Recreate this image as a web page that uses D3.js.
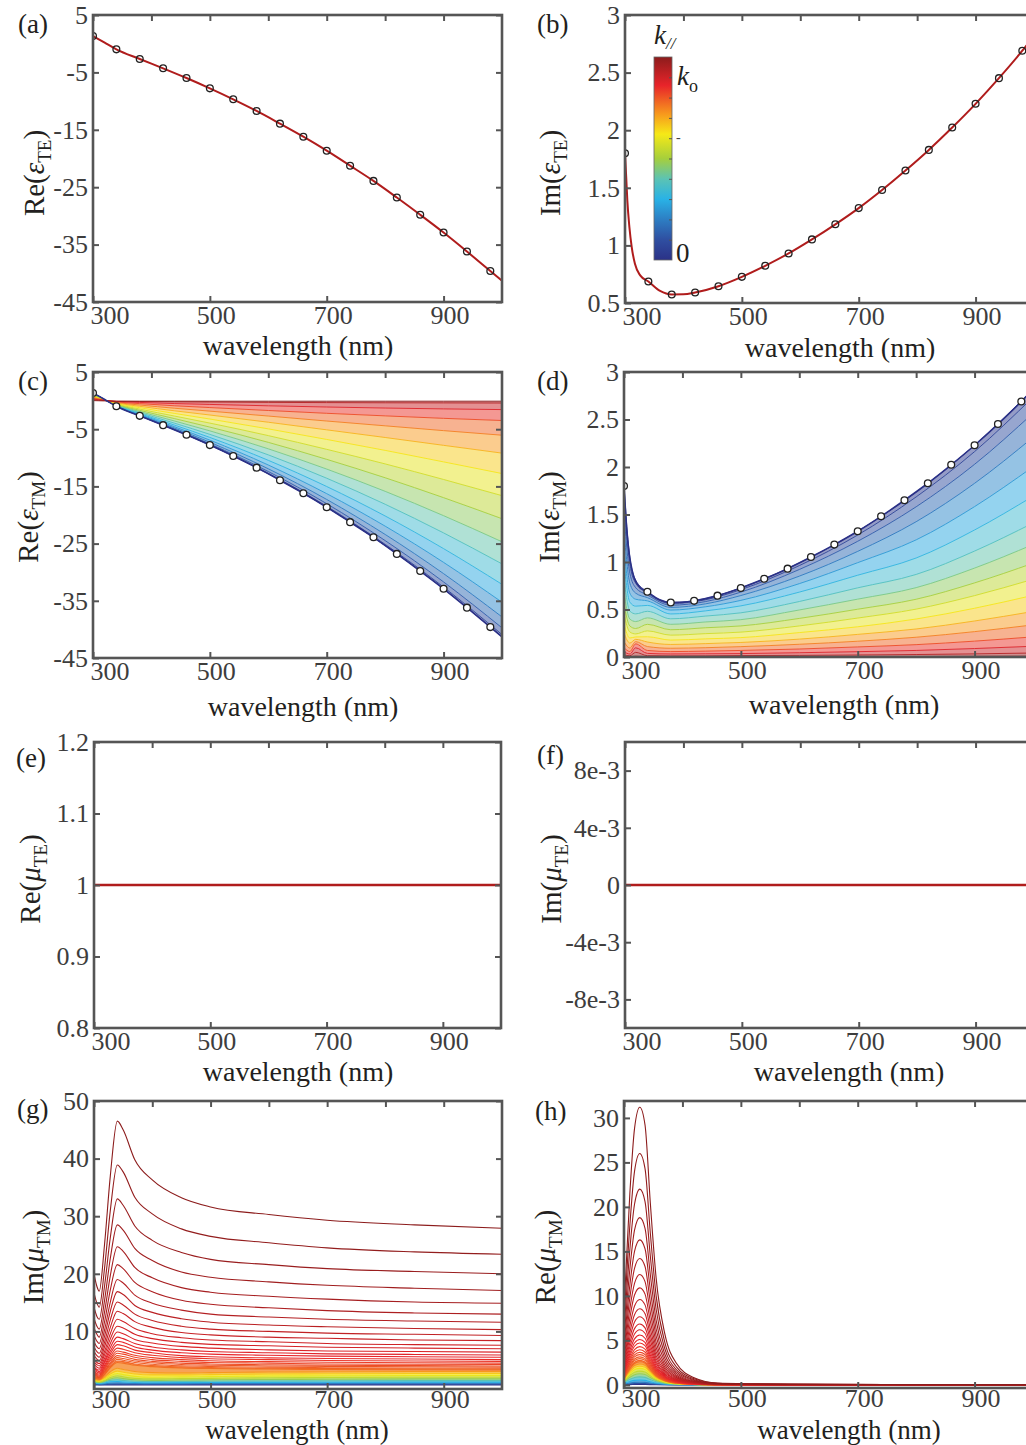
<!DOCTYPE html>
<html>
<head>
<meta charset="utf-8">
<script src="https://cdn.jsdelivr.net/npm/d3@7"></script>
<style>
body { margin: 0; background: #fff; }
svg { display: block; }
</style>
</head>
<body>
<svg id="fig" width="1026" height="1445"></svg>
<script>
// ---- data ----
const wlTicks = [300, 500, 700, 900];
const wlTopTicks = [300, 400, 500, 600, 700, 800, 900];

const circleWl = [300, 340, 380, 420, 460, 500, 540, 580, 620, 660, 700, 740, 780, 820, 860, 900, 940, 980];
const reEpsCircles = [1.34, -0.98, -2.67, -4.29, -5.98, -7.78, -9.69, -11.72, -13.93, -16.2, -18.64, -21.25, -23.9, -26.8, -29.8, -32.9, -36.2, -39.6];
const imEpsCircles = [1.80, 0.687, 0.574, 0.591, 0.646, 0.727, 0.823, 0.93, 1.052, 1.183, 1.324, 1.481, 1.65, 1.829, 2.023, 2.229, 2.452, 2.69];

const reEpsWl = [300, 320, 340, 380, 420, 460, 500, 540, 580, 620, 660, 700, 740, 780, 820, 860, 900, 940, 980, 1000];
const reEpsTE = [1.34, 0.18, -0.98, -2.67, -4.29, -5.98, -7.78, -9.69, -11.72, -13.93, -16.2, -18.64, -21.25, -23.9, -26.8, -29.8, -32.9, -36.2, -39.6, -41.3];
const imEpsWl = [300, 302, 304, 307.5, 311.5, 317, 326, 340, 360, 380, 400, 420, 460, 500, 540, 580, 620, 660, 700, 740, 780, 820, 860, 900, 940, 980, 1000];
const imEpsTE = [1.80, 1.60, 1.39, 1.16, 0.985, 0.84, 0.74, 0.687, 0.605, 0.574, 0.575, 0.591, 0.646, 0.727, 0.823, 0.93, 1.052, 1.183, 1.324, 1.481, 1.65, 1.829, 2.023, 2.229, 2.452, 2.69, 2.82];

const muTEWl = [300, 1000];
const reMuTE = [1, 1];
const imMuTE = [0, 0];

// TM family, k// levels from 0 (blue) to k_o (red)
const epsTMWl = [300, 310, 320, 340, 380, 440, 500, 600, 700, 800, 900, 1000];
const epsTMLevels = [0, 0.0625, 0.125, 0.1875, 0.25, 0.3125, 0.375, 0.4375, 0.5, 0.5625, 0.625, 0.6875, 0.75, 0.8125, 0.875, 0.9375, 1];
const reEpsTM = [
  [1.34, 0.76, 0.18, -0.98, -2.67, -5.13, -7.78, -12.8, -18.64, -25.35, -32.9, -41.3],
  [1.33, 0.756, 0.179, -0.974, -2.65, -5.10, -7.72, -12.70, -18.49, -25.13, -32.60, -40.90],
  [1.31, 0.745, 0.177, -0.957, -2.60, -4.99, -7.56, -12.40, -18.02, -24.47, -31.70, -39.73],
  [1.28, 0.727, 0.172, -0.93, -2.52, -4.82, -7.28, -11.92, -17.28, -23.40, -30.25, -37.82],
  [1.24, 0.702, 0.166, -0.891, -2.41, -4.59, -6.91, -11.26, -16.27, -21.95, -28.28, -35.25],
  [1.18, 0.670, 0.159, -0.843, -2.27, -4.30, -6.44, -10.44, -15.02, -20.17, -25.88, -32.12],
  [1.11, 0.632, 0.150, -0.785, -2.10, -3.96, -5.90, -9.49, -13.57, -18.12, -23.13, -28.55],
  [1.04, 0.587, 0.139, -0.72, -1.91, -3.58, -5.29, -8.43, -11.97, -15.86, -20.12, -24.68],
  [0.95, 0.537, 0.127, -0.647, -1.70, -3.16, -4.63, -7.30, -10.27, -13.49, -16.97, -20.65],
  [0.85, 0.482, 0.114, -0.568, -1.48, -2.71, -3.93, -6.12, -8.52, -11.07, -13.79, -16.62],
  [0.74, 0.422, 0.10, -0.484, -1.24, -2.25, -3.22, -4.94, -6.79, -8.70, -10.71, -12.75],
  [0.63, 0.358, 0.085, -0.397, -1.00, -1.79, -2.52, -3.78, -5.11, -6.45, -7.82, -9.18],
  [0.51, 0.291, 0.069, -0.309, -0.77, -1.34, -1.84, -2.70, -3.57, -4.41, -5.25, -6.05],
  [0.39, 0.221, 0.052, -0.222, -0.53, -0.91, -1.22, -1.73, -2.22, -2.67, -3.10, -3.48],
  [0.26, 0.148, 0.035, -0.15, -0.32, -0.52, -0.67, -0.91, -1.12, -1.30, -1.45, -1.57],
  [0.13, 0.074, 0.018, -0.12, -0.16, -0.21, -0.25, -0.31, -0.35, -0.38, -0.40, -0.42],
  [0, -0.03, -0.06, -0.1, -0.1, -0.1, -0.1, -0.1, -0.1, -0.1, -0.1, -0.1]
];
const imEpsTM = [
  [1.80, 1.05, 0.81, 0.687, 0.574, 0.615, 0.727, 0.99, 1.324, 1.737, 2.229, 2.82],
  [1.674, 0.977, 0.778, 0.673, 0.563, 0.603, 0.709, 0.962, 1.284, 1.685, 2.162, 2.735],
  [1.512, 0.882, 0.729, 0.653, 0.545, 0.584, 0.683, 0.921, 1.218, 1.581, 2.028, 2.566],
  [1.332, 0.777, 0.672, 0.625, 0.522, 0.560, 0.647, 0.851, 1.112, 1.424, 1.828, 2.312],
  [1.152, 0.672, 0.608, 0.591, 0.494, 0.529, 0.596, 0.772, 0.993, 1.233, 1.583, 2.002],
  [0.99, 0.578, 0.535, 0.543, 0.453, 0.486, 0.538, 0.683, 0.861, 1.042, 1.337, 1.692],
  [0.828, 0.483, 0.454, 0.481, 0.402, 0.431, 0.465, 0.584, 0.728, 0.869, 1.115, 1.41],
  [0.684, 0.399, 0.373, 0.412, 0.344, 0.369, 0.393, 0.495, 0.609, 0.730, 0.936, 1.184],
  [0.558, 0.326, 0.30, 0.344, 0.287, 0.308, 0.327, 0.406, 0.503, 0.608, 0.780, 0.987],
  [0.45, 0.263, 0.243, 0.275, 0.230, 0.246, 0.262, 0.327, 0.410, 0.504, 0.646, 0.818],
  [0.342, 0.2, 0.211, 0.213, 0.178, 0.191, 0.204, 0.257, 0.318, 0.40, 0.513, 0.649],
  [0.252, 0.147, 0.186, 0.158, 0.132, 0.141, 0.153, 0.188, 0.238, 0.295, 0.379, 0.479],
  [0.162, 0.095, 0.162, 0.110, 0.092, 0.098, 0.109, 0.134, 0.166, 0.208, 0.267, 0.338],
  [0.099, 0.058, 0.138, 0.069, 0.057, 0.062, 0.069, 0.084, 0.106, 0.130, 0.167, 0.212],
  [0.054, 0.032, 0.097, 0.038, 0.032, 0.034, 0.036, 0.045, 0.056, 0.069, 0.089, 0.113],
  [0.022, 0.013, 0.049, 0.014, 0.011, 0.012, 0.015, 0.017, 0.021, 0.026, 0.033, 0.042],
  [0.005, 0.003, 0.008, 0.003, 0.002, 0.002, 0.003, 0.003, 0.004, 0.005, 0.007, 0.008]
];

const muTMLevels = [1, 0.99, 0.98, 0.97, 0.96, 0.95, 0.94, 0.93, 0.92, 0.91, 0.90, 0.89, 0.88, 0.87, 0.86, 0.85, 0.84, 0.83, 0.82, 0.81, 0.80, 0.79, 0.78, 0.77, 0.72, 0.66, 0.60, 0.54, 0.48, 0.40, 0.30, 0.20, 0.10, 0];
const imMuWl = [300, 305, 309, 318, 328, 340, 350, 370, 400, 450, 500, 600, 700, 850, 1000];
const imMuTM = [
  [20.0, 17.8, 17.0, 25.0, 37.0, 46.5, 45.0, 39.8, 36.3, 33.2, 31.6, 30.3, 29.3, 28.5, 27.9],
  [16.7, 14.9, 14.2, 20.9, 31.0, 38.9, 37.7, 33.3, 30.4, 27.8, 26.5, 25.4, 24.5, 23.8, 23.4],
  [14.2, 12.6, 12.1, 17.8, 26.3, 33.0, 31.9, 28.3, 25.8, 23.7, 22.5, 21.6, 20.9, 20.4, 20.0],
  [12.3, 10.9, 10.4, 15.3, 22.7, 28.5, 27.6, 24.4, 22.3, 20.3, 19.4, 18.6, 18.0, 17.5, 17.1],
  [10.6, 9.5, 9.0, 13.3, 19.7, 24.7, 23.9, 21.1, 19.3, 17.6, 16.8, 16.1, 15.6, 15.1, 14.9],
  [9.3, 8.3, 7.9, 11.6, 17.2, 21.6, 20.9, 18.5, 16.9, 15.4, 14.7, 14.1, 13.6, 13.2, 13.0],
  [8.2, 7.3, 7.0, 10.2, 15.1, 19.0, 18.4, 16.3, 14.9, 13.7, 13.0, 12.5, 12.1, 11.8, 11.6],
  [7.3, 6.5, 6.2, 9.1, 13.5, 16.9, 16.4, 14.5, 13.3, 12.2, 11.6, 11.1, 10.8, 10.5, 10.3],
  [6.5, 5.8, 5.5, 8.1, 12.0, 15.1, 14.6, 13.0, 11.9, 10.9, 10.4, 10.0, 9.7, 9.5, 9.3],
  [5.8, 5.2, 4.9, 7.3, 10.7, 13.5, 13.1, 11.7, 10.7, 9.8, 9.4, 9.0, 8.8, 8.5, 8.4],
  [5.2, 4.6, 4.4, 6.5, 9.6, 12.1, 11.7, 10.5, 9.6, 8.9, 8.5, 8.2, 7.9, 7.7, 7.6],
  [4.7, 4.2, 4.0, 5.9, 8.7, 10.9, 10.6, 9.5, 8.75, 8.1, 7.75, 7.5, 7.25, 7.1, 7.0],
  [4.3, 3.8, 3.6, 5.3, 7.9, 9.9, 9.6, 8.6, 8.0, 7.4, 7.1, 6.8, 6.6, 6.5, 6.4],
  [3.9, 3.4, 3.3, 4.8, 7.2, 9.0, 8.75, 7.9, 7.3, 6.8, 6.5, 6.3, 6.1, 6.0, 5.9],
  [3.6, 3.2, 3.0, 4.5, 6.6, 8.3, 8.1, 7.3, 6.75, 6.3, 6.05, 5.85, 5.7, 5.6, 5.5],
  [3.3, 2.95, 2.8, 4.1, 6.1, 7.7, 7.5, 6.75, 6.3, 5.8, 5.6, 5.4, 5.3, 5.2, 5.1],
  [3.05, 2.7, 2.6, 3.8, 5.65, 7.1, 6.9, 6.3, 5.85, 5.45, 5.25, 5.1, 4.95, 4.85, 4.8],
  [2.85, 2.5, 2.4, 3.55, 5.25, 6.6, 6.4, 5.85, 5.45, 5.1, 4.9, 4.75, 4.65, 4.55, 4.5],
  [2.65, 2.35, 2.25, 3.35, 4.95, 6.2, 6.05, 5.5, 5.1, 4.8, 4.6, 4.5, 4.35, 4.3, 4.25],
  [2.5, 2.2, 2.1, 3.1, 4.6, 5.8, 5.65, 5.15, 4.8, 4.5, 4.35, 4.2, 4.12, 4.05, 4.0],
  [2.35, 2.1, 2.0, 2.95, 4.35, 5.45, 5.3, 4.85, 4.55, 4.25, 4.12, 4.0, 3.92, 3.85, 3.8],
  [2.2, 2.0, 1.9, 2.8, 4.1, 5.15, 5.0, 4.6, 4.3, 4.03, 3.9, 3.8, 3.7, 3.64, 3.6],
  [2.1, 1.85, 1.78, 2.6, 3.85, 4.85, 4.75, 4.35, 4.08, 3.85, 3.72, 3.62, 3.55, 3.49, 3.45],
  [1.98, 1.76, 1.68, 2.47, 3.66, 4.6, 4.5, 4.13, 3.89, 3.67, 3.56, 3.46, 3.39, 3.34, 3.3],
  [1.75, 1.6, 1.55, 2.1, 3.0, 3.6, 3.4, 3.05, 2.85, 2.8, 2.85, 2.95, 3.0, 3.05, 3.05],
  [1.6, 1.5, 1.45, 1.9, 2.6, 3.1, 2.9, 2.6, 2.45, 2.45, 2.5, 2.6, 2.65, 2.7, 2.7],
  [1.5, 1.4, 1.35, 1.7, 2.3, 2.7, 2.5, 2.2, 2.05, 2.1, 2.15, 2.25, 2.3, 2.35, 2.35],
  [1.4, 1.3, 1.25, 1.5, 2.0, 2.3, 2.1, 1.85, 1.75, 1.8, 1.85, 1.95, 2.0, 2.05, 2.05],
  [1.3, 1.2, 1.15, 1.35, 1.75, 1.95, 1.8, 1.6, 1.5, 1.55, 1.6, 1.65, 1.7, 1.75, 1.75],
  [1.2, 1.1, 1.05, 1.2, 1.5, 1.6, 1.5, 1.35, 1.3, 1.3, 1.35, 1.4, 1.42, 1.45, 1.45],
  [1.05, 1.0, 0.95, 1.05, 1.25, 1.3, 1.22, 1.12, 1.08, 1.1, 1.12, 1.15, 1.17, 1.2, 1.2],
  [0.9, 0.88, 0.85, 0.9, 1.0, 1.05, 1.0, 0.95, 0.93, 0.94, 0.95, 0.97, 0.98, 1.0, 1.0],
  [0.8, 0.78, 0.76, 0.78, 0.84, 0.86, 0.84, 0.82, 0.81, 0.82, 0.83, 0.84, 0.85, 0.85, 0.85],
  [0.7, 0.7, 0.7, 0.7, 0.7, 0.7, 0.7, 0.7, 0.7, 0.7, 0.7, 0.7, 0.7, 0.7, 0.7]
];
const reMuWl = [300, 310, 318, 327, 336, 345, 355, 370, 390, 420, 460, 520, 600, 750, 1000];
const reMuTM = [
  [8.5, 21.5, 28.8, 31.2, 29.2, 20.5, 12.0, 5.7, 2.4, 0.8, 0.2, 0.12, 0.08, 0.05, 0.03],
  [7.07, 17.9, 24.0, 26.0, 24.3, 17.1, 10.0, 4.76, 2.0, 0.68, 0.17, 0.1, 0.07, 0.04, 0.03],
  [5.98, 15.2, 20.3, 22.0, 20.6, 14.5, 8.47, 4.03, 1.69, 0.57, 0.14, 0.08, 0.06, 0.035, 0.02],
  [5.11, 13.0, 17.4, 18.8, 17.6, 12.4, 7.24, 3.44, 1.45, 0.49, 0.12, 0.07, 0.05, 0.03, 0.02],
  [4.43, 11.2, 15.0, 16.3, 15.3, 10.7, 6.28, 2.98, 1.26, 0.42, 0.10, 0.06, 0.04, 0.026, 0.016],
  [3.86, 9.78, 13.1, 14.2, 13.3, 9.33, 5.47, 2.60, 1.09, 0.37, 0.09, 0.054, 0.037, 0.023, 0.014],
  [3.37, 8.54, 11.4, 12.4, 11.6, 8.15, 4.77, 2.27, 0.95, 0.32, 0.08, 0.047, 0.032, 0.02, 0.012],
  [2.96, 7.51, 10.1, 10.9, 10.2, 7.16, 4.2, 1.99, 0.84, 0.28, 0.07, 0.041, 0.028, 0.017, 0.011],
  [2.61, 6.61, 8.86, 9.6, 8.99, 6.31, 3.7, 1.76, 0.74, 0.25, 0.06, 0.036, 0.025, 0.015, 0.01],
  [2.33, 5.89, 7.89, 8.55, 8.0, 5.62, 3.29, 1.56, 0.66, 0.22, 0.055, 0.032, 0.022, 0.014, 0.009],
  [2.08, 5.27, 7.06, 7.65, 7.16, 5.03, 2.95, 1.40, 0.59, 0.2, 0.049, 0.029, 0.02, 0.012, 0.008],
  [1.86, 4.72, 6.32, 6.85, 6.41, 4.5, 2.64, 1.25, 0.53, 0.18, 0.044, 0.026, 0.018, 0.011, 0.007],
  [1.69, 4.27, 5.72, 6.2, 5.8, 4.07, 2.39, 1.13, 0.48, 0.16, 0.04, 0.024, 0.016, 0.01, 0.006],
  [1.52, 3.86, 5.17, 5.6, 5.24, 3.68, 2.16, 1.02, 0.43, 0.15, 0.036, 0.021, 0.015, 0.009, 0.006],
  [1.39, 3.51, 4.71, 5.1, 4.77, 3.35, 1.96, 0.93, 0.39, 0.13, 0.033, 0.019, 0.013, 0.008, 0.005],
  [1.28, 3.24, 4.34, 4.7, 4.4, 3.09, 1.81, 0.86, 0.36, 0.12, 0.03, 0.018, 0.012, 0.008, 0.005],
  [1.17, 2.96, 3.97, 4.3, 4.02, 2.83, 1.66, 0.79, 0.33, 0.11, 0.028, 0.016, 0.011, 0.007, 0.004],
  [1.07, 2.72, 3.65, 3.95, 3.7, 2.6, 1.52, 0.72, 0.3, 0.1, 0.025, 0.015, 0.01, 0.006, 0.004],
  [0.99, 2.51, 3.37, 3.65, 3.42, 2.4, 1.41, 0.67, 0.28, 0.095, 0.023, 0.014, 0.009, 0.006, 0.004],
  [0.92, 2.34, 3.14, 3.4, 3.18, 2.23, 1.31, 0.62, 0.26, 0.088, 0.022, 0.013, 0.009, 0.005, 0.003],
  [0.86, 2.17, 2.91, 3.15, 2.95, 2.07, 1.21, 0.58, 0.24, 0.082, 0.02, 0.012, 0.008, 0.005, 0.003],
  [0.8, 2.03, 2.72, 2.95, 2.76, 1.94, 1.14, 0.54, 0.23, 0.077, 0.019, 0.011, 0.008, 0.005, 0.003],
  [0.75, 1.89, 2.54, 2.75, 2.57, 1.81, 1.06, 0.5, 0.21, 0.072, 0.018, 0.01, 0.007, 0.004, 0.003],
  [0.71, 1.79, 2.4, 2.6, 2.43, 1.71, 1.0, 0.48, 0.2, 0.068, 0.017, 0.01, 0.007, 0.004, 0.003],
  [0.64, 1.62, 2.17, 2.35, 2.2, 1.54, 0.9, 0.43, 0.18, 0.06, 0.015, 0.009, 0.006, 0.004, 0.002],
  [0.57, 1.45, 1.94, 2.1, 1.97, 1.38, 0.81, 0.38, 0.16, 0.055, 0.013, 0.008, 0.005, 0.003, 0.002],
  [0.5, 1.27, 1.71, 1.85, 1.73, 1.22, 0.71, 0.34, 0.14, 0.048, 0.012, 0.007, 0.005, 0.003, 0.002],
  [0.42, 1.07, 1.43, 1.55, 1.45, 1.02, 0.6, 0.28, 0.12, 0.04, 0.01, 0.006, 0.004, 0.002, 0.002],
  [0.34, 0.86, 1.15, 1.25, 1.17, 0.82, 0.48, 0.23, 0.1, 0.033, 0.008, 0.005, 0.003, 0.002, 0.001],
  [0.24, 0.62, 0.83, 0.9, 0.84, 0.59, 0.35, 0.16, 0.07, 0.023, 0.006, 0.003, 0.002, 0.001, 0.001],
  [0.15, 0.38, 0.51, 0.55, 0.51, 0.36, 0.21, 0.1, 0.04, 0.014, 0.004, 0.002, 0.001, 0.001, 0.001],
  [0.08, 0.21, 0.28, 0.3, 0.28, 0.2, 0.12, 0.055, 0.023, 0.008, 0.002, 0.001, 0.001, 0, 0],
  [0.04, 0.1, 0.14, 0.15, 0.14, 0.1, 0.06, 0.03, 0.01, 0, 0, 0, 0, 0, 0],
  [0.02, 0.03, 0.04, 0.05, 0.04, 0.03, 0.02, 0.01, 0, 0, 0, 0, 0, 0, 0]
];

// colorbar (k//) stops
const cmapPos = [0, 0.1, 0.2, 0.3, 0.4, 0.5, 0.62, 0.72, 0.86, 1];
const cmapCol = ["#2b3187", "#2f4fa1", "#2d7ec3", "#29b2e6", "#5cc3b3", "#a6cf3c", "#f6e917", "#f7981d", "#e8242a", "#8c1c1c"];
const cbarTicks = [0, 0.1, 0.2, 0.3, 0.4, 0.5, 0.6, 0.7, 0.8, 0.9, 1];

const yTicksA = [-45, -35, -25, -15, -5, 5];
const yLabelsA = ["-45", "-35", "-25", "-15", "-5", "5"];
const yTicksB = [0.5, 1, 1.5, 2, 2.5, 3];
const yLabelsB = ["0.5", "1", "1.5", "2", "2.5", "3"];
const yTicksD = [0, 0.5, 1, 1.5, 2, 2.5, 3];
const yLabelsD = ["0", "0.5", "1", "1.5", "2", "2.5", "3"];
const yTicksE = [0.8, 0.9, 1, 1.1, 1.2];
const yLabelsE = ["0.8", "0.9", "1", "1.1", "1.2"];
const yTicksF = [-0.008, -0.004, 0, 0.004, 0.008];
const yLabelsF = ["-8e-3", "-4e-3", "0", "4e-3", "8e-3"];
const yTicksG = [10, 20, 30, 40, 50];
const yLabelsG = ["10", "20", "30", "40", "50"];
const yTicksH = [0, 5, 10, 15, 20, 25, 30];
const yLabelsH = ["0", "5", "10", "15", "20", "25", "30"];

// ---- drawing ----
const FONT = "'Liberation Serif','Times New Roman',serif";
const AXIS = "#555";
const TE_RED = "#b01c1c";

const svg = d3.select("#fig");
const defs = svg.append("defs");
const cmap = d3.scaleLinear().domain(cmapPos).range(cmapCol).interpolate(d3.interpolateRgb).clamp(true);

const panels = {
  a: { left: 93, top: 15, w: 409, h: 287, dom: [-45, 5], ticks: yTicksA, labels: yLabelsA },
  b: { left: 625, top: 15, w: 409, h: 288, dom: [0.5, 3], ticks: yTicksB, labels: yLabelsB },
  c: { left: 93, top: 372, w: 409, h: 286, dom: [-45, 5], ticks: yTicksA, labels: yLabelsA },
  d: { left: 624, top: 372, w: 409, h: 285, dom: [0, 3], ticks: yTicksD, labels: yLabelsD },
  e: { left: 94, top: 742, w: 407, h: 286, dom: [0.8, 1.2], ticks: yTicksE, labels: yLabelsE },
  f: { left: 625, top: 742, w: 409, h: 286, dom: [-0.01, 0.01], ticks: yTicksF, labels: yLabelsF },
  g: { left: 94, top: 1101, w: 408, h: 288, dom: [0, 50], ticks: yTicksG, labels: yLabelsG, minor: [5, 15], pad: 1 },
  h: { left: 624, top: 1101, w: 409, h: 287, dom: [-0.35, 31.9], ticks: yTicksH, labels: yLabelsH, pad: 1 }
};

function setup(id) {
  const p = panels[id];
  p.x = d3.scaleLinear().domain([300, 1000]).range([p.left, p.left + p.w]);
  p.y = d3.scaleLinear().domain(p.dom).range([p.top + p.h, p.top]);
  defs.append("clipPath").attr("id", "clip-" + id)
    .append("rect").attr("x", p.left).attr("y", p.top).attr("width", p.w).attr("height", p.h);
  p.plot = svg.append("g").attr("clip-path", `url(#clip-${id})`);
  return p;
}

function drawAxes(p) {
  const g = svg.append("g").attr("font-family", FONT);
  const gb = g.append("g").attr("transform", `translate(0,${p.top + p.h})`)
    .call(d3.axisBottom(p.x).tickValues(wlTicks).tickSize(-6).tickSizeOuter(0)
      .tickPadding(p.pad !== undefined ? p.pad : 4).tickFormat(d3.format("d")));
  g.append("g").attr("transform", `translate(0,${p.top})`)
    .call(d3.axisTop(p.x).tickValues(wlTopTicks).tickSize(-6).tickSizeOuter(0).tickFormat(""));
  g.append("g").attr("transform", `translate(${p.left},0)`)
    .call(d3.axisLeft(p.y).tickValues(p.ticks).tickSize(-6).tickSizeOuter(0).tickPadding(5).tickFormat((d, i) => p.labels[i]));
  if (p.minor) {
    g.append("g").attr("transform", `translate(${p.left},0)`)
      .call(d3.axisLeft(p.y).tickValues(p.minor).tickSize(-6).tickSizeOuter(0).tickFormat(""));
  }
  g.append("g").attr("transform", `translate(${p.left + p.w},0)`)
    .call(d3.axisRight(p.y).tickValues(p.ticks).tickSize(-6).tickSizeOuter(0).tickFormat(""));
  g.selectAll(".domain").remove();
  g.selectAll(".tick line").attr("stroke", AXIS).attr("stroke-width", 2);
  g.selectAll(".tick text").attr("font-size", 26).attr("fill", "#3d3d3d").attr("font-family", FONT);
  gb.selectAll(".tick text")
    .attr("text-anchor", d => d === 300 ? "start" : "middle")
    .attr("x", d => d === 300 ? -3 : 6);
  g.append("rect").attr("x", p.left).attr("y", p.top).attr("width", p.w).attr("height", p.h)
    .attr("fill", "none").attr("stroke", AXIS).attr("stroke-width", 2.6);
}

function lineOf(p, wl) {
  return d3.line().curve(d3.curveMonotoneX).x((d, k) => p.x(wl[k])).y(d => p.y(d));
}

function drawTE(p, wl, vals, color, width) {
  p.plot.append("path").attr("d", lineOf(p, wl)(vals))
    .attr("fill", "none").attr("stroke", color).attr("stroke-width", width);
}

function drawCircles(p, vals, fill) {
  p.plot.append("g").selectAll("circle").data(vals).enter().append("circle")
    .attr("cx", (d, i) => p.x(circleWl[i])).attr("cy", d => p.y(d)).attr("r", 3.4)
    .attr("fill", fill).attr("stroke", "#222").attr("stroke-width", 1.3);
}

function drawFamily(p, wl, rows, levels, fillMax, fillOpacity, width) {
  const area = d3.area().curve(d3.curveMonotoneX)
    .x((d, k) => p.x(wl[k])).y0(d => p.y(d[0])).y1(d => p.y(d[1]));
  const bands = p.plot.append("g");
  for (let i = 0; i < rows.length - 1; i++) {
    const u = (levels[i] + levels[i + 1]) / 2;
    if (u > fillMax) continue;
    const pts = rows[i].map((v, k) => [v, rows[i + 1][k]]);
    bands.append("path").attr("d", area(pts)).attr("fill", cmap(u)).attr("opacity", fillOpacity);
  }
  const order = d3.range(rows.length).sort((a, b) => levels[a] - levels[b]);
  const line = lineOf(p, wl);
  const lines = p.plot.append("g");
  order.forEach(i => {
    lines.append("path").attr("d", line(rows[i])).attr("fill", "none")
      .attr("stroke", cmap(levels[i])).attr("stroke-width", width);
  });
}

function yLabel(cx, cy, pre, sym, sub) {
  const t = svg.append("text").attr("transform", `translate(${cx},${cy}) rotate(-90)`)
    .attr("text-anchor", "middle").attr("font-family", FONT).attr("font-size", 29).attr("fill", "#231f20");
  t.append("tspan").text(pre + "(");
  t.append("tspan").attr("font-style", "italic").text(sym);
  t.append("tspan").attr("font-size", 19).attr("dy", 7).text(sub);
  t.append("tspan").attr("dy", -7).text(")");
}

function xLabel(cx, by, size) {
  svg.append("text").attr("x", cx).attr("y", by).attr("text-anchor", "middle")
    .attr("font-family", FONT).attr("font-size", size || 28).attr("fill", "#231f20").text("wavelength (nm)");
}

function tag(x, y, s) {
  svg.append("text").attr("x", x).attr("y", y).attr("font-family", FONT).attr("font-size", 27)
    .attr("fill", "#231f20").text(s);
}

// (a)
const pa = setup("a");
drawTE(pa, reEpsWl, reEpsTE, TE_RED, 2);
drawCircles(pa, reEpsCircles, "none");
drawAxes(pa);

// (b)
const pb = setup("b");
drawTE(pb, imEpsWl, imEpsTE, TE_RED, 2);
drawCircles(pb, imEpsCircles, "none");
drawAxes(pb);

// colorbar in (b)
const cb = { x: 654, w: 18, top: 57, bottom: 260 };
const cbY = d3.scaleLinear().domain([0, 1]).range([cb.bottom, cb.top]);
const grad = defs.append("linearGradient").attr("id", "cbar").attr("x1", 0).attr("y1", 1).attr("x2", 0).attr("y2", 0);
cmapPos.forEach((t, i) => grad.append("stop").attr("offset", t).attr("stop-color", cmapCol[i]));
svg.append("rect").attr("x", cb.x).attr("y", cb.top).attr("width", cb.w).attr("height", cb.bottom - cb.top)
  .attr("fill", "url(#cbar)").attr("stroke", "#666").attr("stroke-width", 0.8);
svg.append("g").attr("transform", `translate(${cb.x + cb.w},0)`)
  .call(d3.axisRight(cbY).tickValues(cbarTicks.slice(1, -1)).tickSize(-3).tickSizeOuter(0).tickFormat(""))
  .call(g => g.select(".domain").remove())
  .call(g => g.selectAll(".tick line").attr("stroke", "#555").attr("stroke-width", 1));
const kTitle = svg.append("text").attr("x", 654).attr("y", 44).attr("font-family", FONT).attr("font-size", 27).attr("fill", "#231f20");
kTitle.append("tspan").attr("font-style", "italic").text("k");
kTitle.append("tspan").attr("font-size", 17).attr("dy", 5).attr("font-style", "italic").text("//");
const kTop = svg.append("text").attr("x", 677).attr("y", cbY(0.9) + 8).attr("font-family", FONT).attr("font-size", 27).attr("fill", "#231f20");
kTop.append("tspan").attr("font-style", "italic").text("k");
kTop.append("tspan").attr("font-size", 18).attr("dy", 7).text("o");
svg.append("text").attr("x", 676).attr("y", cbY(0.6) + 4).attr("font-family", FONT).attr("font-size", 14).attr("fill", "#444").text("-");
svg.append("text").attr("x", 676).attr("y", cbY(0) + 2).attr("font-family", FONT).attr("font-size", 27).attr("fill", "#231f20").text("0");

// (c)
const pc = setup("c");
drawFamily(pc, epsTMWl, reEpsTM, epsTMLevels, 1.01, 0.5, 0.9);
drawTE(pc, reEpsWl, reEpsTE, cmap(0), 1.6);
drawCircles(pc, reEpsCircles, "#fff");
drawAxes(pc);

// (d)
const pd = setup("d");
drawFamily(pd, epsTMWl, imEpsTM, epsTMLevels, 1.01, 0.5, 0.9);
drawTE(pd, imEpsWl, imEpsTE, cmap(0), 1.6);
drawCircles(pd, imEpsCircles, "#fff");
drawAxes(pd);

// (e), (f)
const pe = setup("e");
drawTE(pe, muTEWl, reMuTE, TE_RED, 2.4);
drawAxes(pe);
const pf = setup("f");
drawTE(pf, muTEWl, imMuTE, TE_RED, 2.4);
drawAxes(pf);

// (g), (h)
const pg = setup("g");
drawFamily(pg, imMuWl, imMuTM, muTMLevels, 0.775, 0.75, 1.1);
drawAxes(pg);
const ph = setup("h");
drawFamily(ph, reMuWl, reMuTM, muTMLevels, 0.775, 0.75, 1.1);
drawAxes(ph);

// labels
yLabel(44, 173, "Re", "ε", "TE");
yLabel(560, 173, "Im", "ε", "TE");
yLabel(38, 517, "Re", "ε", "TM");
yLabel(559, 517, "Im", "ε", "TM");
yLabel(40, 879, "Re", "μ", "TE");
yLabel(561, 879, "Im", "μ", "TE");
yLabel(43, 1257, "Im", "μ", "TM");
yLabel(555, 1257, "Re", "μ", "TM");

xLabel(298, 355);
xLabel(840, 357);
xLabel(303, 716);
xLabel(844, 714);
xLabel(298, 1081);
xLabel(849, 1081);
xLabel(297, 1438.5, 27);
xLabel(849, 1438.5, 27);

tag(18, 33, "(a)");
tag(537, 33, "(b)");
tag(18, 390, "(c)");
tag(537, 390, "(d)");
tag(16, 767, "(e)");
tag(537, 764, "(f)");
tag(17, 1118, "(g)");
tag(535, 1120, "(h)");
</script>
</body>
</html>
